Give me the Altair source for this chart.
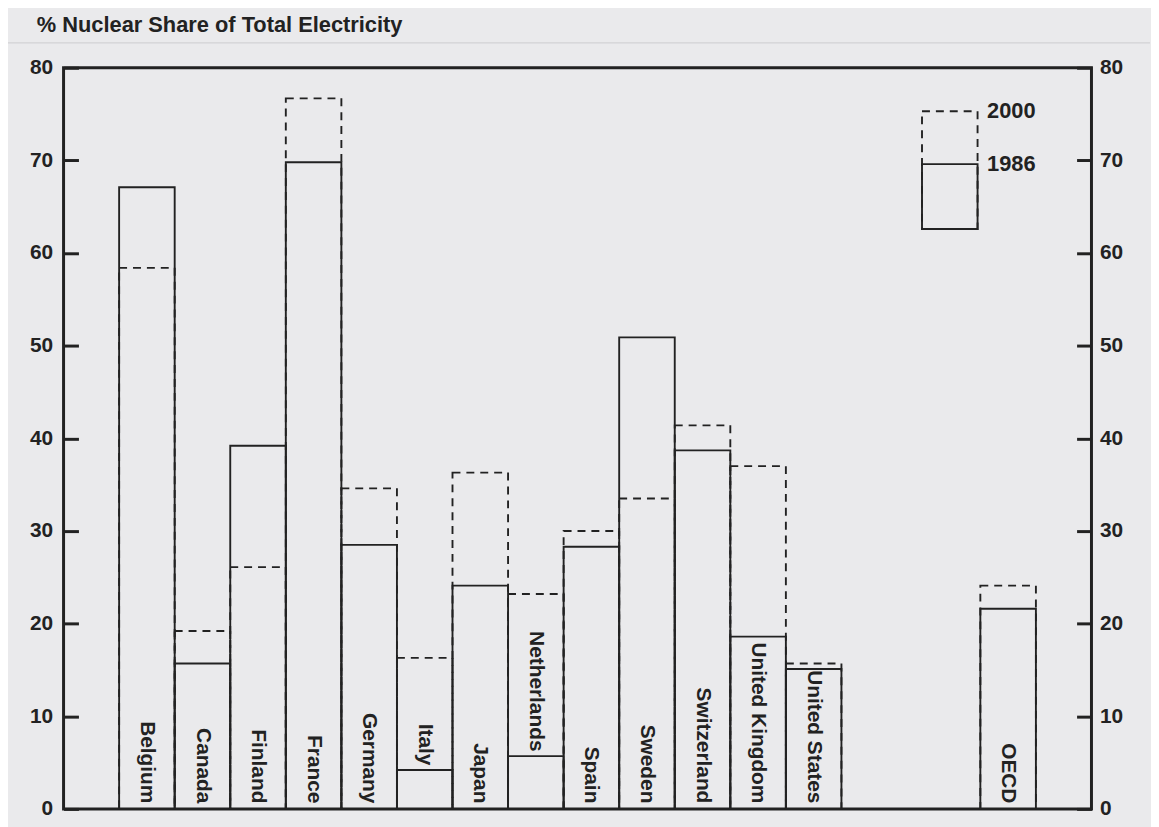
import altair as alt
import pandas as pd

# ---- data ----
countries = ["Belgium", "Canada", "Finland", "France", "Germany", "Italy", "Japan",
             "Netherlands", "Spain", "Sweden", "Switzerland", "United Kingdom",
             "United States", "OECD"]
share_1986 = [67.1, 15.7, 39.2, 69.8, 28.5, 4.2, 24.1, 5.7, 28.3, 50.9, 38.7, 18.6, 15.1, 21.6]
share_2000 = [58.4, 19.2, 26.1, 76.7, 34.6, 16.3, 36.3, 23.2, 30.0, 33.5, 41.4, 37.0, 15.7, 24.1]
y_ticks = [0, 10, 20, 30, 40, 50, 60, 70, 80]
legend_years = ["2000", "1986"]
legend_levels = [75.3, 69.6]
legend_base = 62.6
title_text = ["% Nuclear Share of Total Electricity"]

# ---- layout helpers (slot units) ----
GAP = 2.5          # empty slots before the OECD bar
LEGEND_SLOT = 15.45
X_MAX = 18.5

rows = []
for i, (c, a, b) in enumerate(zip(countries, share_1986, share_2000)):
    start = i + 1 + (GAP if c == "OECD" else 0)
    rows.append({
        "country": c, "x0": start, "x1": start + 1, "xc": start + 0.5,
        "v1986": a, "v2000": b,
        "label_y": a + 0.5 if a < 8 else 0.6,
    })
df = pd.DataFrame(rows)

leg = pd.DataFrame({
    "x0": [LEGEND_SLOT], "x1": [LEGEND_SLOT + 1],
    "base": [legend_base], "v1986": [legend_levels[1]], "v2000": [legend_levels[0]],
})
leg_txt = pd.DataFrame({"year": legend_years, "y": legend_levels,
                        "x": [LEGEND_SLOT + 1.17] * 2})
ttl = pd.DataFrame({"t": title_text})

FONT = "Liberation Sans"
INK = "#222222"
W, H = 1036, 747

xs = alt.Scale(domain=[0, X_MAX], nice=False, zero=False)
ys = alt.Scale(domain=[0, 80], nice=False)

def yaxis(orient, pad):
    return alt.Axis(values=y_ticks, orient=orient, offset=-15, tickSize=15,
                    tickWidth=3, tickColor=INK, domain=False, grid=False,
                    labelPadding=pad, labelFont=FONT, labelFontSize=21,
                    labelFontWeight="bold", labelColor=INK, title=None)

dashed = alt.Chart(df).mark_rect(fill=None, stroke=INK, strokeWidth=1.9,
                                 strokeDash=[8, 6]).encode(
    x=alt.X("x0:Q", scale=xs, axis=None), x2="x1:Q",
    y=alt.Y("v2000:Q", scale=ys, axis=yaxis("left", 11)), y2=alt.datum(0),
)

solid = alt.Chart(df).mark_rect(fill=None, stroke=INK, strokeWidth=1.9).encode(
    x=alt.X("x0:Q", scale=xs, axis=None), x2="x1:Q",
    y=alt.Y("v1986:Q", scale=ys, axis=yaxis("right", 8)), y2=alt.datum(0),
)

labels = alt.Chart(df).mark_text(angle=90, align="right", baseline="middle",
                                 font=FONT, fontSize=21, fontWeight="bold",
                                 color=INK).encode(
    x=alt.X("xc:Q", scale=xs, axis=None),
    y=alt.Y("label_y:Q", scale=ys, axis=None),
    text="country:N",
)

leg_dash = alt.Chart(leg).mark_rect(fill=None, stroke=INK, strokeWidth=1.9,
                                    strokeDash=[8, 6]).encode(
    x=alt.X("x0:Q", scale=xs, axis=None), x2="x1:Q",
    y=alt.Y("v2000:Q", scale=ys, axis=None), y2="base:Q",
)
leg_solid = alt.Chart(leg).mark_rect(fill=None, stroke=INK, strokeWidth=1.9).encode(
    x=alt.X("x0:Q", scale=xs, axis=None), x2="x1:Q",
    y=alt.Y("v1986:Q", scale=ys, axis=None), y2="base:Q",
)
leg_text = alt.Chart(leg_txt).mark_text(align="left", baseline="middle", font=FONT,
                                        fontSize=22, fontWeight="bold",
                                        color=INK).encode(
    x=alt.X("x:Q", scale=xs, axis=None),
    y=alt.Y("y:Q", scale=ys, axis=None),
    text="year:N",
)

title_rule = alt.Chart(ttl).mark_rule(color="#d2d2d5", strokeWidth=1.2).encode(
    x=alt.value(-64), x2=alt.value(W + 59), y=alt.value(-25),
)
title_mark = alt.Chart(ttl).mark_text(align="left", baseline="alphabetic", font=FONT,
                                      fontSize=22, fontWeight="bold",
                                      color=INK).encode(
    x=alt.value(-27), y=alt.value(-36), text="t:N",
)

chart = alt.layer(
    title_rule, title_mark, dashed, solid, labels, leg_dash, leg_solid, leg_text
).resolve_axis(y="independent").properties(
    width=W, height=H,
    autosize=alt.AutoSizeParams(type="none"),
    padding={"left": 56, "top": 57, "right": 60, "bottom": 16},
    background="#eaeaec",
).configure_view(stroke=INK, strokeWidth=3)

chart.save("out.html", embed_options={"renderer": "svg", "actions": False})
